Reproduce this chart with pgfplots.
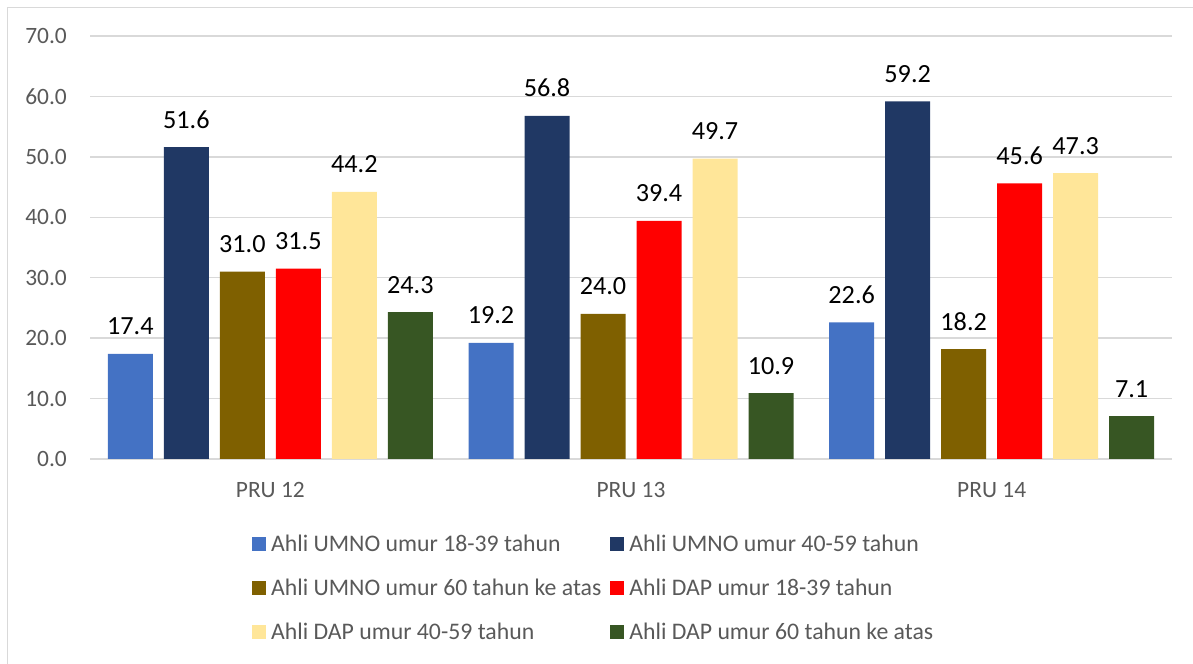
\documentclass[border=0pt]{standalone}
\usepackage{fontspec}
\setmainfont{Carlito}
\usepackage{pgfplots}
\pgfplotsset{compat=1.18}
\definecolor{c1}{HTML}{4472C4}
\definecolor{c2}{HTML}{203864}
\definecolor{c3}{HTML}{7F6000}
\definecolor{c4}{HTML}{FF0000}
\definecolor{c5}{HTML}{FFE699}
\definecolor{c6}{HTML}{375623}
\definecolor{gridc}{HTML}{D9D9D9}
\definecolor{txt}{HTML}{595959}
\begin{document}
\begin{tikzpicture}[x=1bp,y=1bp]
\useasboundingbox (0,0) rectangle (1193,664);
\draw[gridc, line width=1.3bp] (7.5,0) -- (7.5,656.5) -- (1193,656.5);
\begin{axis}[
  at={(90bp,205bp)}, anchor=south west, scale only axis,
  width=1082bp, height=423bp,
  xmin=-0.5, xmax=2.5, ymin=0, ymax=70,
  ybar=11bp, bar width=45bp,
  xtick={0,1,2}, xticklabels={PRU 12,PRU 13,PRU 14},
  ytick={0,10,...,70},
  yticklabel={\pgfmathprintnumber[fixed,fixed zerofill,precision=1,assume math mode=true]{\tick}},
  ymajorgrids, grid style={gridc, line width=1.3bp},
  axis line style={draw=none}, major tick length=0pt,
  tick label style={font=\fontsize{23.5}{27}\selectfont, text=txt},
  y tick label style={anchor=east, inner sep=0pt, xshift=-23bp},
  x tick label style={anchor=base, inner sep=0pt, yshift=-39bp},
  nodes near coords={\pgfmathprintnumber[fixed,fixed zerofill,precision=1,assume math mode=true]{\pgfplotspointmeta}},
  nodes near coords style={font=\fontsize{26.3}{30}\selectfont, text=black, anchor=base, inner sep=0pt, yshift=19bp},
  legend columns=2,
  legend cell align=left,
  legend image code/.code={\fill[#1] (0bp,-4.75bp) rectangle (14bp,9.25bp);},
  legend style={at={(0.1497,-0.3103)}, anchor=west, draw=none, fill=none,
    inner sep=0pt, font=\fontsize{23.85}{27}\selectfont, text=txt,
    nodes={inner sep=0pt, text height=14.5bp, text depth=5bp},
    row sep=24.5bp, column sep=5bp,
    /tikz/every even column/.style={column sep=9bp}},
]
\addplot[fill=c1, draw=none] coordinates {(0,17.4) (1,19.2) (2,22.6)};
\addplot[fill=c2, draw=none] coordinates {(0,51.6) (1,56.8) (2,59.2)};
\addplot[fill=c3, draw=none] coordinates {(0,31.0) (1,24.0) (2,18.2)};
\addplot[fill=c4, draw=none] coordinates {(0,31.5) (1,39.4) (2,45.6)};
\addplot[fill=c5, draw=none] coordinates {(0,44.2) (1,49.7) (2,47.3)};
\addplot[fill=c6, draw=none] coordinates {(0,24.3) (1,10.9) (2,7.1)};
\legend{Ahli UMNO umur 18-39 tahun, Ahli UMNO umur 40-59 tahun,
  Ahli UMNO umur 60 tahun ke atas, Ahli DAP umur 18-39 tahun,
  Ahli DAP umur 40-59 tahun, Ahli DAP umur 60 tahun ke atas}
\end{axis}
\end{tikzpicture}
\end{document}
